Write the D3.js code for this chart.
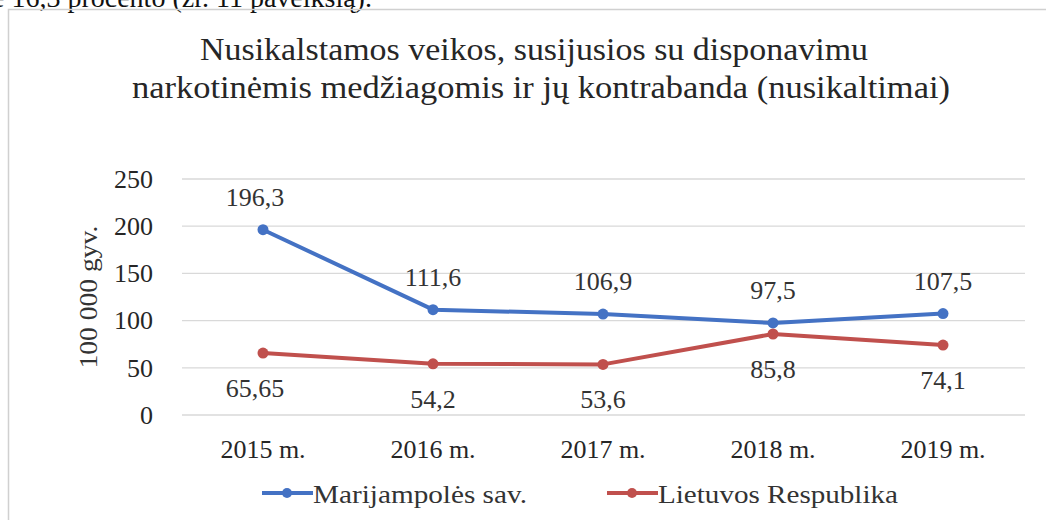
<!DOCTYPE html>
<html lang="lt">
<head>
<meta charset="utf-8">
<title>Nusikalstamos veikos</title>
<style>
  body { margin: 0; background: #fff; }
  svg { display: block; }
  .grid line { stroke: #d9d9d9; stroke-width: 1.3; }
  .axis text { fill: #262626; font-size: 26px; }
  .title { fill: #262626; font-size: 32px; }
  .lbl { fill: #333; font-size: 26px; }
</style>
</head>
<body>
<script src="https://cdn.jsdelivr.net/npm/d3@7"></script>
<script>
// data
const years = ["2015 m.", "2016 m.", "2017 m.", "2018 m.", "2019 m."];
const marijampole = [196.3, 111.6, 106.9, 97.5, 107.5];
const lietuva = [65.65, 54.2, 53.6, 85.8, 74.1];
const seriesNames = ["Marijampolės sav.", "Lietuvos Respublika"];
const yTicks = [0, 50, 100, 150, 200, 250];

const width = 1046, height = 520;
const colors = ["#4472c4", "#c0504d"];
const serif = "'Liberation Serif', 'Times New Roman', serif";

const svg = d3.select("body").append("svg")
  .attr("width", width).attr("height", height);

// cut-off text line from the page above the chart
svg.append("text")
  .attr("x", -8).attr("y", 7)
  .attr("font-family", serif)
  .attr("font-size", 28).attr("fill", "#111")
  .text("ė 16,3 procento (žr. 11 paveikslą).");

// chart frame
svg.append("rect")
  .attr("x", 8.5).attr("y", 9.5)
  .attr("width", 1100).attr("height", 600)
  .attr("fill", "none").attr("stroke", "#d0d0d0").attr("stroke-width", 1.5);

// title
svg.append("text").attr("class", "title")
  .attr("font-family", serif)
  .attr("x", 534).attr("y", 60).attr("text-anchor", "middle")
  .attr("textLength", 668).attr("lengthAdjust", "spacingAndGlyphs")
  .text("Nusikalstamos veikos, susijusios su disponavimu");
svg.append("text").attr("class", "title")
  .attr("font-family", serif)
  .attr("x", 541).attr("y", 98).attr("text-anchor", "middle")
  .attr("textLength", 818).attr("lengthAdjust", "spacingAndGlyphs")
  .text("narkotinėmis medžiagomis ir jų kontrabanda (nusikaltimai)");

const x = d3.scaleBand().domain(years).range([178, 1028]);
const y = d3.scaleLinear().domain([0, 250]).range([415, 179]);

// gridlines
svg.append("g").attr("class", "grid")
  .selectAll("line").data(yTicks).join("line")
  .attr("x1", 182).attr("x2", 1025)
  .attr("y1", d => y(d)).attr("y2", d => y(d));

// y axis
const yAxis = svg.append("g").attr("class", "axis")
  .attr("transform", "translate(160,0)")
  .call(d3.axisLeft(y).tickValues(yTicks).tickSize(0).tickPadding(7));
yAxis.attr("font-family", serif).attr("font-size", null);
yAxis.select(".domain").remove();

// x axis
const xAxis = svg.append("g").attr("class", "axis")
  .attr("transform", "translate(0,415)")
  .call(d3.axisBottom(x).tickSize(0).tickPadding(25));
xAxis.attr("font-family", serif).attr("font-size", null);
xAxis.select(".domain").remove();

// y axis title
svg.append("text").attr("class", "lbl")
  .attr("font-family", serif)
  .attr("font-size", 24)
  .attr("transform", "translate(97,297) rotate(-90)")
  .attr("text-anchor", "middle")
  .attr("textLength", 143).attr("lengthAdjust", "spacingAndGlyphs")
  .text("100 000 gyv.");

const cx = d => x(d) + x.bandwidth() / 2;
const line = d3.line().x((d, i) => cx(years[i])).y(d => y(d));

[marijampole, lietuva].forEach((vals, s) => {
  svg.append("path").datum(vals)
    .attr("d", line)
    .attr("fill", "none")
    .attr("stroke", colors[s])
    .attr("stroke-width", 4)
    .attr("stroke-linejoin", "round");
  svg.selectAll(".pt" + s).data(vals).join("circle")
    .attr("cx", (d, i) => cx(years[i]))
    .attr("cy", d => y(d))
    .attr("r", 5.5)
    .attr("fill", colors[s]);
  svg.selectAll(".lb" + s).data(vals).join("text")
    .attr("class", "lbl")
    .attr("font-family", serif)
    .attr("x", (d, i) => cx(years[i]) - (i === 0 ? 8 : 0))
    .attr("y", d => s === 0 ? y(d) - 24 : y(d) + 44)
    .attr("text-anchor", "middle")
    .text(d => String(d).replace(".", ","));
});

// legend
const legendX = [262, 607];
const legendW = [214, 240];
seriesNames.forEach((name, s) => {
  const g = svg.append("g").attr("transform", `translate(${legendX[s]},493)`);
  g.append("line").attr("x1", 0).attr("x2", 51)
    .attr("stroke", colors[s]).attr("stroke-width", 4);
  g.append("circle").attr("cx", 25).attr("r", 5).attr("fill", colors[s]);
  g.append("text").attr("class", "lbl")
    .attr("font-family", serif)
    .attr("x", 51).attr("y", 10)
    .attr("textLength", legendW[s]).attr("lengthAdjust", "spacingAndGlyphs")
    .text(name);
});
</script>
</body>
</html>
